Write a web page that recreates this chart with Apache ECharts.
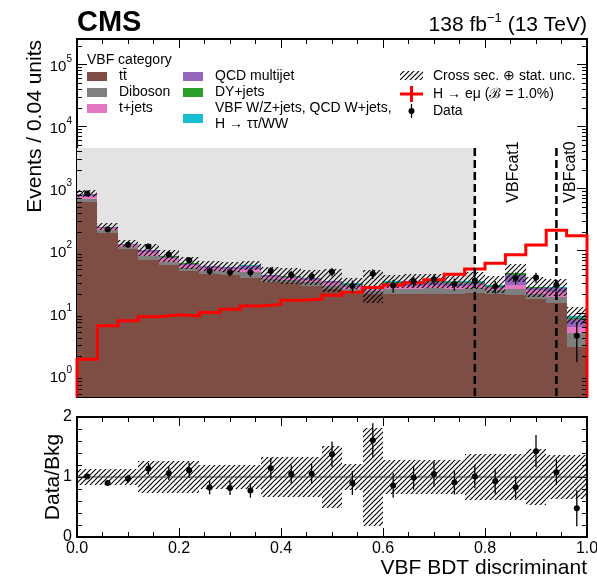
<!DOCTYPE html>
<html>
<head>
<meta charset="utf-8">
<script src="https://cdn.jsdelivr.net/npm/echarts@6/dist/echarts.min.js"></script>
<style>
  html, body { margin: 0; padding: 0; background: #ffffff; }
  #chart { width: 597px; height: 578px; }
</style>
</head>
<body>
<div id="chart"></div>
<script>
// ---- Binning: VBF BDT discriminant, 0.04 per bin ----
const edges = [0.00, 0.04, 0.08, 0.12, 0.16, 0.20, 0.24, 0.28, 0.32, 0.36, 0.40, 0.44, 0.48,
               0.52, 0.56, 0.60, 0.64, 0.68, 0.72, 0.76, 0.80, 0.84, 0.88, 0.92, 0.96, 1.00];

// ---- Background processes (events per bin), stacked bottom to top ----
const ttbar    = [604, 195, 106, 71, 59, 48, 42, 41, 37, 31, 30, 27, 24, 20, 20, 20, 20, 20, 20, 20.7, 20, 19.4, 16.5, 14.6, 2.8];
const diboson  = [66, 18, 9, 12, 8, 5.5, 6, 5.5, 8, 4, 3.5, 4, 3.5, 4, 2.5, 4.5, 4.5, 5, 4.5, 4.5, 3, 5, 3.5, 3.5, 1.9];
const tJets    = [94, 17, 8, 11, 8, 5, 4.5, 4, 5, 3, 2.5, 2.5, 2.5, 2.5, 1.5, 3, 3, 3, 3, 3, 2, 4, 3, 3.5, 1.2];
const qcdMulti = [48, 10, 4.5, 7, 5.5, 3.5, 3.5, 3.5, 6, 2, 2, 2.5, 2, 2, 1.3, 3, 3, 3, 2.5, 2.5, 1.5, 13, 2.5, 3.5, 2.2];
const dyJets   = [6, 2.5, 1, 1.2, 1, 0.6, 0.6, 0.6, 1.5, 0.6, 0.6, 0.6, 0.6, 1, 0.8, 1, 1.3, 1.3, 1, 1, 0.8, 2, 0.3, 0.4, 0.1];
const vbfOther = [4, 1.5, 0.5, 0.8, 0.5, 0.4, 0.4, 0.4, 0.5, 0.4, 0.4, 0.4, 0.4, 0.5, 0.4, 0.5, 0.7, 0.7, 1, 1.3, 1.2, 0.6, 0.2, 0.5, 0.8];

// Relative background uncertainty (cross section (+) stat.)
const bkgUnc = [0.14, 0.14, 0.14, 0.26, 0.26, 0.26, 0.20, 0.20, 0.20, 0.33, 0.33, 0.33, 0.52,
                0.22, 0.82, 0.29, 0.29, 0.29, 0.29, 0.38, 0.38, 0.38, 0.46, 0.37, 0.37];

// ---- Signal H -> e mu (B = 1.0%) ----
const signal = [1.8, 6.2, 7.5, 8.7, 9.3, 8.9, 10.1, 11.4, 12.9, 13.7, 15.9, 16.7, 19.2,
                21.5, 25.5, 28, 30.6, 34, 42, 51, 63, 86, 124, 214, 174];

// ---- Observed data ----
const dataCounts = [830, 220, 125, 117, 87, 70, 47, 45, 45, 47, 41, 39, 45.5,
                    27, 42.7, 27.5, 32.2, 34.7, 29.1, 33.3, 26.5, 36.5, 37.2, 28.1, 4.3];
const dataErr    = [25, 12, 9, 10, 9, 8, 6.5, 6.5, 7, 7, 6, 6, 7,
                    6, 7.5, 6.5, 6.5, 7, 6.5, 6.5, 6, 8, 7, 5.5, 2.7];

// ---- Axis ranges, blinded region and category boundaries ----
const Y_MIN = 0.443, Y_MAX = 2.55e5;
const BLIND_TOP = 4500;
const CAT_BOUNDS = [0.78, 0.94];
const CAT_NAMES = ['VBFcat1', 'VBFcat0'];
const RATIO_MIN = 0, RATIO_MAX = 2;

const FONT = '"Liberation Sans", Arial, Helvetica, sans-serif';
const COLORS = {
  ttbar: '#7e4d43', diboson: '#7f7f7f', tJets: '#e377c2',
  qcd: '#9467bd', dy: '#2ca02c', vbf: '#17becf', signal: '#ff0000'
};

// Diagonal hatch tile used for the uncertainty bands
function hatchTile(step) {
  const c = document.createElement('canvas');
  c.width = step; c.height = step;
  const g = c.getContext('2d');
  g.strokeStyle = '#000';
  g.lineWidth = 1.1;
  g.beginPath();
  g.moveTo(-1, step + 1); g.lineTo(step + 1, -1);
  g.moveTo(-1, 1); g.lineTo(1, -1);
  g.moveTo(step - 1, step + 1); g.lineTo(step + 1, step - 1);
  g.stroke();
  return c;
}
const HATCH = { image: hatchTile(5), repeat: 'repeat' };

function rectFromCoords(api, xa, ya, xb, yb) {
  const p = api.coord([xa, ya]);
  const q = api.coord([xb, yb]);
  const x0 = Math.round(Math.min(p[0], q[0])), x1 = Math.round(Math.max(p[0], q[0]));
  const y0 = Math.round(Math.min(p[1], q[1])), y1 = Math.round(Math.max(p[1], q[1]));
  return { x: x0, y: y0, width: x1 - x0, height: y1 - y0 };
}

// ---- Stacked backgrounds ----
const processes = [
  { values: ttbar, color: COLORS.ttbar },
  { values: diboson, color: COLORS.diboson },
  { values: tJets, color: COLORS.tJets },
  { values: qcdMulti, color: COLORS.qcd },
  { values: dyJets, color: COLORS.dy },
  { values: vbfOther, color: COLORS.vbf }
];
let cumulative = ttbar.map(() => 0);
const stackSeries = processes.map(p => {
  const data = p.values.map((v, i) => [edges[i], edges[i + 1], cumulative[i], cumulative[i] + v]);
  cumulative = cumulative.map((c, i) => c + p.values[i]);
  return {
    type: 'custom', xAxisIndex: 0, yAxisIndex: 0, clip: true, silent: true, z: 2,
    encode: { x: [0, 1], y: [3] }, data,
    renderItem: (params, api) => ({
      type: 'rect',
      shape: rectFromCoords(api, api.value(0), Math.max(api.value(2), Y_MIN), api.value(1), api.value(3)),
      style: { fill: p.color }
    })
  };
});
const bkgTotal = cumulative;

// ---- Main-panel uncertainty band ----
const bandSeries = {
  type: 'custom', xAxisIndex: 0, yAxisIndex: 0, clip: true, silent: true, z: 3,
  encode: { x: [0, 1], y: [3] },
  data: bkgTotal.map((t, i) => [edges[i], edges[i + 1], t / (1 + bkgUnc[i]), t * (1 + bkgUnc[i])]),
  renderItem: (params, api) => ({
    type: 'rect',
    shape: rectFromCoords(api, api.value(0), api.value(2), api.value(1), api.value(3)),
    style: { fill: HATCH }
  })
};

// ---- Blinded region (grey) ----
const blindSeries = {
  type: 'custom', xAxisIndex: 0, yAxisIndex: 0, clip: true, silent: true, z: 1,
  encode: { x: [0, 1], y: [3] },
  data: [[0, CAT_BOUNDS[0], Y_MIN, BLIND_TOP]],
  renderItem: (params, api) => ({
    type: 'rect',
    shape: rectFromCoords(api, api.value(0), api.value(2), api.value(1), api.value(3)),
    style: { fill: '#e3e3e3' }
  })
};

// ---- Signal outline ----
const signalPoints = [[edges[0], Y_MIN]]
  .concat(signal.map((v, i) => [edges[i], v]))
  .concat([[edges[edges.length - 1], signal[signal.length - 1]], [edges[edges.length - 1], Y_MIN]]);
const signalSeries = {
  type: 'line', xAxisIndex: 0, yAxisIndex: 0, step: 'end', z: 4, silent: true,
  showSymbol: false, symbol: 'none', clip: true,
  data: signalPoints,
  lineStyle: { color: COLORS.signal, width: 3, join: 'miter' }
};

// ---- Data points with error bars ----
function pointSeries(xAxisIndex, yAxisIndex, data, lowClamp) {
  return {
    type: 'custom', xAxisIndex, yAxisIndex, clip: true, silent: true, z: 5,
    encode: { x: [0], y: [1] }, data,
    renderItem: (params, api) => {
      const x = api.value(0), y = api.value(1), e = api.value(2);
      const c = api.coord([x, y]);
      const top = api.coord([x, y + e]);
      const bot = api.coord([x, Math.max(y - e, lowClamp)]);
      return {
        type: 'group',
        children: [
          { type: 'line', shape: { x1: c[0], y1: top[1], x2: c[0], y2: bot[1] }, style: { stroke: '#000', lineWidth: 1.3 } },
          { type: 'circle', shape: { cx: c[0], cy: c[1], r: 3 }, style: { fill: '#000' } }
        ]
      };
    }
  };
}
const binCentres = dataCounts.map((d, i) => (edges[i] + edges[i + 1]) / 2);
const dataSeries = pointSeries(0, 0, dataCounts.map((d, i) => [binCentres[i], d, dataErr[i]]), Y_MIN);

// ---- Category boundaries ----
const catLineSeries = {
  type: 'custom', xAxisIndex: 0, yAxisIndex: 0, clip: true, silent: true, z: 6,
  encode: { x: [0], y: [1] },
  data: CAT_BOUNDS.map(b => [b, BLIND_TOP]),
  renderItem: (params, api) => {
    const t = api.coord([api.value(0), api.value(1)]);
    const b = api.coord([api.value(0), Y_MIN]);
    return { type: 'line', shape: { x1: t[0], y1: t[1], x2: b[0], y2: b[1] },
             style: { stroke: '#000', lineWidth: 2.5, lineDash: [8, 4] } };
  }
};

// ---- Log minor ticks (2..9 x 10^n) on both vertical edges ----
const logMinor = [];
for (let n = -1; n <= 5; n++) {
  for (let m = 2; m <= 9; m++) {
    const v = m * Math.pow(10, n);
    if (v > Y_MIN && v < Y_MAX) logMinor.push([0, v]);
  }
}
const minorTickSeries = {
  type: 'custom', xAxisIndex: 0, yAxisIndex: 0, clip: false, silent: true, z: 7,
  encode: { x: [0], y: [1] }, data: logMinor,
  renderItem: (params, api) => {
    const l = api.coord([0, api.value(1)]);
    const r = api.coord([1, api.value(1)]);
    const y = Math.round(l[1]) + 0.5;
    return {
      type: 'group',
      children: [
        { type: 'line', shape: { x1: l[0], y1: y, x2: l[0] + 5, y2: y }, style: { stroke: '#000', lineWidth: 1 } },
        { type: 'line', shape: { x1: r[0] - 5, y1: y, x2: r[0], y2: y }, style: { stroke: '#000', lineWidth: 1 } }
      ]
    };
  }
};

// ---- Ratio panel ----
const ratioBand = {
  type: 'custom', xAxisIndex: 2, yAxisIndex: 2, clip: true, silent: true, z: 3,
  encode: { x: [0, 1], y: [3] },
  data: bkgUnc.map((u, i) => [edges[i], edges[i + 1], 1 - u, 1 + u]),
  renderItem: (params, api) => ({
    type: 'rect',
    shape: rectFromCoords(api, api.value(0), api.value(2), api.value(1), api.value(3)),
    style: { fill: HATCH }
  })
};
const unityLine = {
  type: 'line', xAxisIndex: 2, yAxisIndex: 2, z: 4, silent: true, symbol: 'none',
  data: [[0, 1], [1, 1]],
  lineStyle: { color: '#333', width: 1 }
};
const ratioPoints = pointSeries(2, 2,
  dataCounts.map((d, i) => [binCentres[i], d / bkgTotal[i], dataErr[i] / bkgTotal[i]]), RATIO_MIN);

// ---- Axes ----
const axisLineStyle = { show: true, onZero: false, lineStyle: { color: '#000', width: 2 } };
function xAx(gridIndex, position, showLabels) {
  return {
    type: 'value', gridIndex, position, min: 0, max: 1, interval: 0.2,
    axisLine: axisLineStyle,
    axisTick: { show: true, inside: true, length: 9, lineStyle: { color: '#000', width: 1 } },
    minorTick: { show: true, splitNumber: 4, length: 5, lineStyle: { color: '#000', width: 1 } },
    splitLine: { show: false }, minorSplitLine: { show: false },
    axisLabel: showLabels ? {
      show: true, margin: 4, color: '#000', fontSize: 16, fontFamily: FONT,
      formatter: v => v.toFixed(1)
    } : { show: false }
  };
}
const logLabelRich = {
  b: { fontSize: 15, fontFamily: FONT, color: '#000', lineHeight: 20, verticalAlign: 'bottom' },
  s: { fontSize: 10, fontFamily: FONT, color: '#000', lineHeight: 12, verticalAlign: 'top' }
};
function logAx(position, showLabels) {
  return {
    type: 'log', logBase: 10, gridIndex: 0, position, min: Y_MIN, max: Y_MAX,
    axisLine: axisLineStyle,
    axisTick: { show: true, inside: true, length: 10, lineStyle: { color: '#000', width: 1 } },
    splitLine: { show: false }, minorTick: { show: false },
    axisLabel: showLabels ? {
      show: true, margin: 5, rich: logLabelRich,
      formatter: v => {
        const e = Math.log10(v), n = Math.round(e);
        if (Math.abs(e - n) > 1e-6) return '';
        return '{b|10}{s|' + n + '}';
      }
    } : { show: false }
  };
}
function ratioAx(position, showLabels) {
  return {
    type: 'value', gridIndex: 1, position, min: RATIO_MIN, max: RATIO_MAX, interval: 1,
    axisLine: axisLineStyle,
    axisTick: { show: true, inside: true, length: 9, lineStyle: { color: '#000', width: 1 } },
    minorTick: { show: true, splitNumber: 5, length: 5, lineStyle: { color: '#000', width: 1 } },
    splitLine: { show: false }, minorSplitLine: { show: false },
    axisLabel: showLabels ? { show: true, margin: 5, color: '#000', fontSize: 16, fontFamily: FONT } : { show: false }
  };
}

// ---- Text and legend ----
function txt(x, y, text, size, opts) {
  return Object.assign({
    type: 'text', x, y, z: 20, silent: true,
    style: Object.assign({ text, fill: '#000', font: size + 'px ' + FONT, textAlign: 'left', textVerticalAlign: 'middle' },
                         (opts && opts.style) || {})
  }, (opts && opts.el) || {});
}
function swatch(x, y, color) {
  return { type: 'rect', z: 20, silent: true, shape: { x, y, width: 20, height: 9 }, style: { fill: color } };
}
const graphics = [
  txt(77, 23, 'CMS', 29, { style: { font: 'bold 29px ' + FONT } }),
  {
    type: 'text', x: 587, y: 24, z: 20, silent: true,
    style: {
      text: '{a|138 fb}{s|\u22121}{a| (13 TeV)}', textAlign: 'right', textVerticalAlign: 'middle',
      rich: {
        a: { fontSize: 21, fontFamily: FONT, fill: '#000', lineHeight: 24, verticalAlign: 'bottom' },
        s: { fontSize: 13, fontFamily: FONT, fill: '#000', lineHeight: 14, verticalAlign: 'top' }
      }
    }
  },
  txt(35, 40, 'Events / 0.04 units', 21, { style: { textAlign: 'right' }, el: { rotation: Math.PI / 2 } }),
  txt(53, 477, 'Data/Bkg', 21, { style: { textAlign: 'center' }, el: { rotation: Math.PI / 2 } }),
  txt(587, 568, 'VBF BDT discriminant', 21, { style: { textAlign: 'right' } }),
  txt(514, 172, CAT_NAMES[0], 16, { style: { textAlign: 'center' }, el: { rotation: Math.PI / 2 } }),
  txt(571, 172, CAT_NAMES[1], 16, { style: { textAlign: 'center' }, el: { rotation: Math.PI / 2 } }),

  // process legend
  txt(87, 60, 'VBF category', 14),
  swatch(87, 72, COLORS.ttbar), txt(119, 76, 't\u0074\u0304', 14),
  swatch(87, 88, COLORS.diboson), txt(119, 92, 'Diboson', 14),
  swatch(87, 104, COLORS.tJets), txt(119, 108, 't+jets', 14),
  swatch(183, 72, COLORS.qcd), txt(215, 76, 'QCD multijet', 14),
  swatch(183, 88, COLORS.dy), txt(215, 92, 'DY+jets', 14),
  swatch(183, 114, COLORS.vbf),
  txt(215, 108, 'VBF W/Z+jets, QCD W+jets,', 14),
  txt(215, 124, 'H \u2192 \u03c4\u03c4/WW', 14),

  // uncertainty / signal / data legend
  { type: 'rect', z: 20, silent: true, shape: { x: 400, y: 71, width: 23, height: 9 }, style: { fill: HATCH } },
  txt(433, 76, 'Cross sec. \u2295 stat. unc.', 14),
  { type: 'line', z: 20, silent: true, shape: { x1: 400, y1: 94, x2: 423, y2: 94 }, style: { stroke: COLORS.signal, lineWidth: 3 } },
  { type: 'line', z: 20, silent: true, shape: { x1: 411.5, y1: 86, x2: 411.5, y2: 102 }, style: { stroke: COLORS.signal, lineWidth: 3 } },
  txt(433, 94, 'H \u2192 e\u03bc (\u212c = 1.0%)', 14),
  { type: 'line', z: 20, silent: true, shape: { x1: 411.5, y1: 104, x2: 411.5, y2: 118 }, style: { stroke: '#000', lineWidth: 1.3 } },
  { type: 'circle', z: 20, silent: true, shape: { cx: 411.5, cy: 111, r: 3 }, style: { fill: '#000' } },
  txt(433, 111, 'Data', 14)
];

const option = {
  animation: false,
  backgroundColor: '#ffffff',
  grid: [
    { left: 77, right: 10, top: 39, height: 358, outerBoundsMode: 'none', containLabel: false },
    { left: 77, right: 10, top: 417, height: 120, outerBoundsMode: 'none', containLabel: false }
  ],
  xAxis: [xAx(0, 'bottom', false), xAx(0, 'top', false), xAx(1, 'bottom', true), xAx(1, 'top', false)],
  yAxis: [logAx('left', true), logAx('right', false), ratioAx('left', true), ratioAx('right', false)],
  series: [blindSeries].concat(stackSeries, [bandSeries, signalSeries, dataSeries, catLineSeries, minorTickSeries,
           ratioBand, unityLine, ratioPoints]),
  graphic: { elements: graphics }
};

const chart = echarts.init(document.getElementById('chart'), null, { renderer: 'canvas' });
chart.setOption(option);
</script>
</body>
</html>
